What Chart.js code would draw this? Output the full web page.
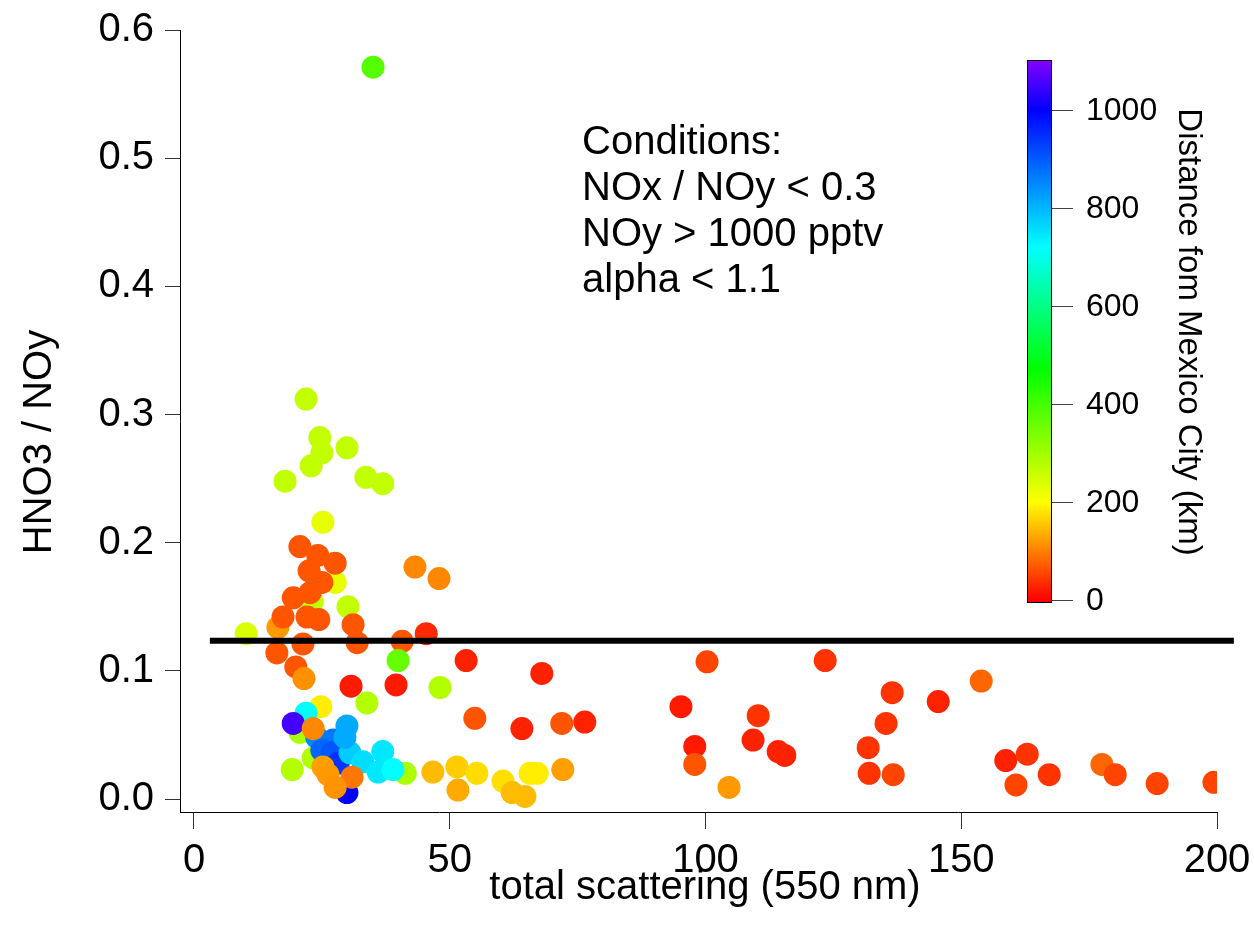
<!DOCTYPE html>
<html>
<head>
<meta charset="utf-8">
<script src="https://cdn.jsdelivr.net/npm/chart.js@4.4.1/dist/chart.umd.min.js"></script>
<style>
  html, body { margin: 0; padding: 0; background: #fff; }
  #plot { display: block; }
</style>
</head>
<body>
<canvas id="plot" width="1254" height="936"></canvas>
<script>
// total scattering (550 nm)
const scatX = [
  23.1, 27.6, 20.7, 23.3, 24.0,
  35.0, 21.9, 24.6, 25.0, 22.9, 29.9, 17.8, 33.6, 36.9, 25.2, 30.1, 10.2, 16.4,
  20.7, 24.2, 27.6, 22.5, 25.0, 22.7, 19.4, 17.4, 22.1, 24.4, 31.1, 31.9, 21.3, 16.2, 19.9,
  40.7, 45.4, 43.2, 47.9, 39.9, 53.2, 21.5, 30.7, 39.5, 48.1, 33.8, 24.8, 21.9, 19.4,
  19.2, 41.3, 27.2, 25.0, 27.0, 28.2, 29.9, 30.5, 33.0, 36.9, 36.0, 38.9, 29.5, 29.9,
  23.3, 25.2, 26.2, 30.9, 27.6,
  46.7, 51.4, 51.6, 55.3, 60.4, 62.2, 64.7, 65.7, 67.1, 72.1,
  54.9, 68.0, 64.1, 71.9, 76.4, 95.2, 97.9, 97.9, 100.3, 104.6, 110.3, 109.3, 114.2, 115.5,
  123.4, 131.8, 132.0, 135.3, 136.5, 136.7, 145.5, 153.9, 158.7, 162.9, 160.7, 167.2,
  177.5, 180.1, 188.3, 199.4
];
// HNO3 / NOy
const hno3Ratio = [
  0.154, 0.169, 0.052, 0.032, 0.048,
  0.571, 0.312, 0.282, 0.270, 0.260, 0.274, 0.248, 0.251, 0.246, 0.216, 0.150, 0.129, 0.134,
  0.197, 0.190, 0.184, 0.178, 0.169, 0.161, 0.157, 0.142, 0.142, 0.140, 0.136, 0.122, 0.121, 0.114, 0.103,
  0.123, 0.129, 0.181, 0.172, 0.108, 0.108, 0.094, 0.088, 0.089, 0.087, 0.075, 0.072, 0.067, 0.059,
  0.023, 0.020, 0.046, 0.038, 0.036, 0.028, 0.005, 0.036, 0.029, 0.037, 0.021, 0.023, 0.048, 0.057,
  0.055, 0.025, 0.019, 0.017, 0.009,
  0.021, 0.025, 0.007, 0.020, 0.014, 0.005, 0.002, 0.020, 0.020, 0.023,
  0.063, 0.098, 0.055, 0.059, 0.060, 0.072, 0.041, 0.027, 0.107, 0.009, 0.065, 0.046, 0.037, 0.034,
  0.108, 0.040, 0.020, 0.059, 0.083, 0.019, 0.076, 0.092, 0.030, 0.035, 0.011, 0.019,
  0.027, 0.019, 0.012, 0.013
];
// Distance from Mexico City (km), sets marker colour
const distKm = [
  265, 224, 290, 280, 850,
  380, 265, 265, 265, 265, 265, 265, 265, 265, 224, 265, 240, 120,
  67, 67, 67, 67, 67, 67, 67, 67, 67, 67, 67, 67, 67, 67, 67,
  67, 33, 107, 107, 362, 27, 113, 20, 20, 280, 280, 187, 720, 1052,
  280, 290, 869, 888, 906, 944, 1000, 775, 757, 745, 745, 720, 813, 813,
  107, 125, 120, 93, 115,
  147, 160, 133, 173, 175, 147, 147, 187, 187, 125,
  67, 27, 27, 67, 27, 20, 20, 67, 53, 120, 40, 27, 27, 27,
  40, 40, 40, 40, 40, 53, 27, 80, 27, 40, 53, 40,
  80, 53, 53, 53
];
const xTicks = [0, 50, 100, 150, 200];
const yTicks = [0, 0.1, 0.2, 0.3, 0.4, 0.5, 0.6];
const barTicks = [0, 200, 400, 600, 800, 1000];
const refLevel = 0.1234;
const refSpan = [3.1, 203.3];
const conditions = ["Conditions:", "NOx / NOy < 0.3", "NOy > 1000 pptv", "alpha < 1.1"];

// rainbow colour table, 0..1100 km
const stops = [
  [0, [255, 0, 0]], [200, [255, 255, 0]], [470, [0, 255, 0]],
  [720, [0, 255, 255]], [1000, [0, 0, 255]], [1100, [130, 0, 255]]
];
function rainbow(v) {
  if (v <= stops[0][0]) return "rgb(" + stops[0][1].join(",") + ")";
  for (let i = 1; i < stops.length; i++) {
    if (v <= stops[i][0]) {
      const a = stops[i - 1], b = stops[i];
      const t = (v - a[0]) / (b[0] - a[0]);
      const c = a[1].map((k, j) => Math.round(k + (b[1][j] - k) * t));
      return "rgb(" + c.join(",") + ")";
    }
  }
  return "rgb(" + stops[stops.length - 1][1].join(",") + ")";
}

const FONT = "'Liberation Sans', Arial, sans-serif";
Chart.defaults.font.family = FONT;
Chart.defaults.color = "#000";

const points = scatX.map((x, i) => ({ x: x, y: hno3Ratio[i] }));

// colour bar, titles and the conditions text
const extras = {
  id: "extras",
  afterDraw(chart) {
    const ctx = chart.ctx;
    ctx.save();

    // colour bar
    const bx = 1027, bw = 24, top = 60, zeroY = 600, bottom = 602, perKm = 0.49;
    const grad = ctx.createLinearGradient(0, zeroY, 0, zeroY - 1100 * perKm);
    stops.forEach(s => grad.addColorStop(s[0] / 1100, rainbow(s[0])));
    ctx.fillStyle = grad;
    ctx.fillRect(bx, top, bw, bottom - top);
    ctx.strokeStyle = "#000";
    ctx.lineWidth = 1;
    ctx.strokeRect(bx + 0.5, top + 0.5, bw, bottom - top);

    ctx.font = "32px " + FONT;
    ctx.fillStyle = "#000";
    ctx.textAlign = "left";
    ctx.textBaseline = "middle";
    barTicks.forEach(v => {
      const y = Math.round(zeroY - v * perKm) + 0.5;
      ctx.strokeStyle = "#444";
      ctx.beginPath();
      ctx.moveTo(bx + bw + 1, y);
      ctx.lineTo(bx + bw + 22, y);
      ctx.stroke();
      ctx.fillText(String(v), 1086, y + 1);
    });

    // colour bar title
    ctx.save();
    ctx.translate(1188, 332);
    ctx.rotate(Math.PI / 2);
    ctx.font = "33px " + FONT;
    ctx.textAlign = "center";
    ctx.fillText("Distance fom Mexico City (km)", 0, 0);
    ctx.restore();

    // axis titles
    ctx.font = "40px " + FONT;
    ctx.textAlign = "center";
    ctx.fillText("total scattering (550 nm)", 705, 888);
    ctx.save();
    ctx.translate(40, 442);
    ctx.rotate(-Math.PI / 2);
    ctx.fillText("HNO3 / NOy", 0, 0);
    ctx.restore();

    // conditions
    ctx.textAlign = "left";
    ctx.textBaseline = "alphabetic";
    conditions.forEach((t, i) => ctx.fillText(t, 582, 154 + i * 46));

    ctx.restore();
  }
};

new Chart(document.getElementById("plot"), {
  type: "scatter",
  data: {
    datasets: [
      {
        data: points,
        pointRadius: 11.5,
        pointHoverRadius: 11.5,
        pointBorderWidth: 0,
        pointBackgroundColor: distKm.map(rainbow),
        pointBorderColor: distKm.map(rainbow),
        order: 2
      },
      {
        data: refSpan.map(x => ({ x: x, y: refLevel })),
        showLine: true,
        borderColor: "#000",
        borderWidth: 6,
        pointRadius: 0,
        clip: false,
        order: 1
      }
    ]
  },
  options: {
    responsive: false,
    animation: false,
    devicePixelRatio: 1,
    layout: { padding: { top: 30, right: 37, left: 0, bottom: 0 } },
    plugins: { legend: { display: false }, tooltip: { enabled: false } },
    scales: {
      x: {
        type: "linear",
        min: -2.737,
        max: 200,
        afterBuildTicks: s => { s.ticks = xTicks.map(v => ({ value: v })); },
        afterFit: s => { s.height = 124; s.paddingLeft = 0; s.paddingRight = 0; },
        ticks: { font: { size: 40 }, padding: 8, maxRotation: 0 },
        grid: { drawOnChartArea: false, drawTicks: true, tickLength: 17, color: "#333" },
        border: { display: true, color: "#000", width: 1 }
      },
      y: {
        type: "linear",
        min: -0.01014,
        max: 0.6,
        afterBuildTicks: s => { s.ticks = yTicks.map(v => ({ value: v })); },
        afterFit: s => { s.width = 180; s.paddingTop = 0; s.paddingBottom = 0; },
        ticks: { font: { size: 40 }, padding: 11, callback: v => v.toFixed(1) },
        grid: { drawOnChartArea: false, drawTicks: true, tickLength: 15, color: "#333" },
        border: { display: true, color: "#000", width: 1 }
      }
    }
  },
  plugins: [extras]
});
</script>
</body>
</html>
